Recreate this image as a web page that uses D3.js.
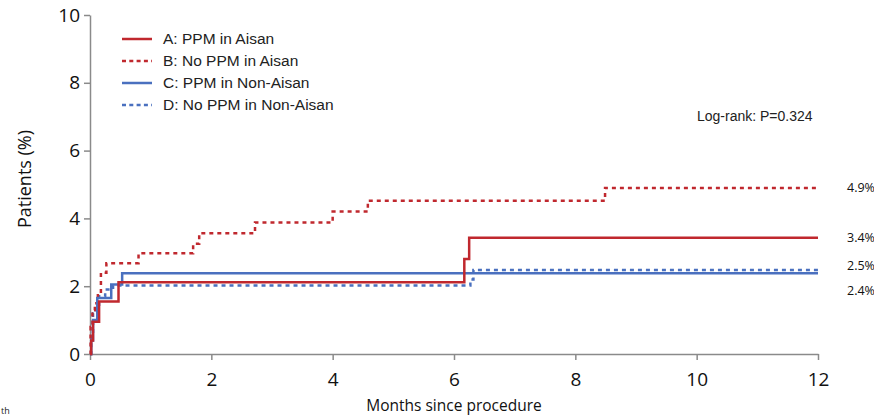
<!DOCTYPE html>
<html>
<head>
<meta charset="utf-8">
<script src="https://cdn.jsdelivr.net/npm/d3@7"></script>
<style>
  body { margin: 0; background: #fff; }
  svg { display: block; }
</style>
</head>
<body>
<div id="chart"></div>
<script>
// months since procedure / cumulative % of patients
var aTimes  = [0, 0.02, 0.05, 0.15, 0.47, 6.17, 6.25, 12];
var aValues = [0, 0.4, 0.95, 1.55, 2.12, 2.8, 3.43, 3.43];

var bTimes  = [0, 0.01, 0.04, 0.08, 0.13, 0.18, 0.27, 0.8, 1.7, 1.8, 2.72, 4.0, 4.58, 8.49, 12];
var bValues = [0, 0.8, 1.3, 1.5, 1.8, 2.4, 2.68, 2.97, 3.25, 3.56, 3.88, 4.2, 4.52, 4.9, 4.9];

var cTimes  = [0, 0.02, 0.05, 0.12, 0.35, 0.53, 12];
var cValues = [0, 0.4, 1.0, 1.65, 2.05, 2.38, 2.38];

var dTimes  = [0, 0.02, 0.05, 0.09, 0.15, 0.25, 0.38, 6.27, 6.32, 12];
var dValues = [0, 0.6, 1.2, 1.45, 1.7, 1.9, 2.02, 2.2, 2.48, 2.48];

var seriesNames = ['A: PPM in Aisan', 'B: No PPM in Aisan', 'C: PPM in Non-Aisan', 'D: No PPM in Non-Aisan'];
var endLabels = ['3.4%', '4.9%', '2.4%', '2.5%'];
var xTicks = [0, 2, 4, 6, 8, 10, 12];
var yTicks = [0, 2, 4, 6, 8, 10];

var red = '#c0282e';
var blue = '#4a70bf';
var axisColor = '#8a8a8a';
var tickFont = '"Open Sans", sans-serif';
var legendFont = '"Liberation Sans", Arial, sans-serif';

var width = 874, height = 416;

var svg = d3.select('#chart').append('svg')
    .attr('width', width)
    .attr('height', height);

var x = d3.scaleLinear().domain([0, 12]).range([90, 818]);
var y = d3.scaleLinear().domain([0, 10]).range([354, 15]);

// axes
var xAxis = svg.append('g')
    .attr('transform', 'translate(0,' + y(0) + ')')
    .call(d3.axisBottom(x).tickValues(xTicks).tickSize(6).tickSizeOuter(0).tickPadding(13));
var yAxis = svg.append('g')
    .attr('transform', 'translate(' + x(0) + ',0)')
    .call(d3.axisLeft(y).tickValues(yTicks).tickSize(6).tickSizeOuter(0).tickPadding(4));

[xAxis, yAxis].forEach(function(ax) {
    ax.selectAll('path, line').attr('stroke', axisColor).attr('stroke-width', 1.5);
    ax.selectAll('text')
        .attr('fill', '#111')
        .style('font-family', tickFont)
        .style('font-size', '19px');
});

// axis titles
svg.append('text')
    .attr('transform', 'translate(31,179) rotate(-90)')
    .attr('text-anchor', 'middle')
    .style('font-family', tickFont)
    .style('font-size', '18px')
    .attr('fill', '#111')
    .text('Patients (%)');

svg.append('text')
    .attr('x', 454)
    .attr('y', 411)
    .attr('text-anchor', 'middle')
    .style('font-family', tickFont)
    .style('font-size', '15.5px')
    .attr('fill', '#111')
    .text('Months since procedure');

// step curves
var series = [
    { t: aTimes, v: aValues, color: red,  dash: null },
    { t: bTimes, v: bValues, color: red,  dash: '4 4' },
    { t: cTimes, v: cValues, color: blue, dash: null },
    { t: dTimes, v: dValues, color: blue, dash: '4 4' }
];

var line = d3.line()
    .x(function(d) { return x(d[0]); })
    .y(function(d) { return y(d[1]); })
    .curve(d3.curveStepAfter);

// draw dotted ones first so solid lines sit on top, like the figure
[3, 1, 2, 0].forEach(function(i) {
    var s = series[i];
    var pts = s.t.map(function(t, j) { return [t, s.v[j]]; });
    svg.append('path')
        .attr('d', line(pts))
        .attr('fill', 'none')
        .attr('stroke', s.color)
        .attr('stroke-width', 2.5)
        .attr('stroke-dasharray', s.dash);
});

// end labels
series.forEach(function(s, i) {
    var yy = y(s.v[s.v.length - 1]);
    if (i === 2) yy += 17;   // 2.4% sits below 2.5%
    if (i === 3) yy -= 4;
    svg.append('text')
        .attr('x', 847)
        .attr('y', yy)
        .attr('dy', '0.35em')
        .style('font-family', tickFont)
        .style('font-size', '12.5px')
        .attr('fill', '#111')
        .text(endLabels[i]);
});

// legend
var legend = svg.append('g');
series.forEach(function(s, i) {
    var ly = 39 + i * 22;
    legend.append('line')
        .attr('x1', 122).attr('x2', 152)
        .attr('y1', ly).attr('y2', ly)
        .attr('stroke', s.color)
        .attr('stroke-width', 2.5)
        .attr('stroke-dasharray', s.dash ? '4 3.3' : null);
    legend.append('text')
        .attr('x', 163)
        .attr('y', ly)
        .attr('dy', '0.35em')
        .style('font-family', legendFont)
        .style('font-size', '15.5px')
        .attr('fill', '#222')
        .text(seriesNames[i]);
});

svg.append('text')
    .attr('x', 697)
    .attr('y', 121)
    .style('font-family', legendFont)
    .style('font-size', '14px')
    .attr('fill', '#222')
    .text('Log-rank: P=0.324');

// small caption fragment at the bottom-left edge
svg.append('text')
    .attr('x', 1)
    .attr('y', 414)
    .style('font-family', tickFont)
    .style('font-size', '9px')
    .attr('fill', '#222')
    .text('th');
</script>
</body>
</html>
